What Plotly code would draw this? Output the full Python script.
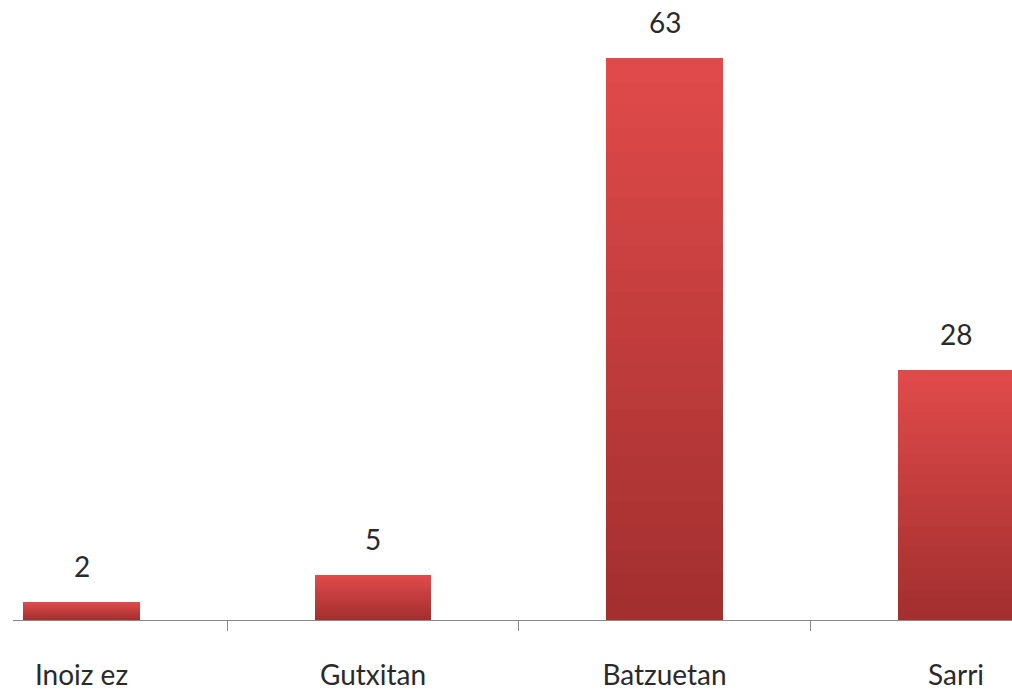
import plotly.graph_objects as go

categories = ["Inoiz ez", "Gutxitan", "Batzuetan", "Sarri"]
values = [2, 5, 63, 28]

light = (224, 74, 74)
dark = (163, 47, 47)
N = 24

fig = go.Figure()
xs = list(range(len(categories)))
for k in range(N):
    f = 1 - k / N
    t = k / (N - 1)
    c = tuple(round(light[i] + (dark[i] - light[i]) * t) for i in range(3))
    fig.add_trace(go.Bar(
        x=xs, y=[v * f for v in values], width=0.4,
        marker=dict(color="rgb(%d,%d,%d)" % c, line=dict(width=0)),
        hoverinfo="skip", showlegend=False,
    ))

for x, v in zip(xs, values):
    fig.add_annotation(x=x, y=v, text=str(v), showarrow=False, yanchor="middle",
                       yshift=36, font=dict(family="Lato", size=28, color="#2a2a2a"))

fig.update_layout(
    width=1012, height=691, barmode="overlay", bargap=0,
    margin=dict(l=13, r=0, t=0, b=71),
    plot_bgcolor="white", paper_bgcolor="white",
    xaxis=dict(range=[-0.235, 3.192], tickvals=xs, ticktext=categories,
               ticks="", showgrid=False, zeroline=False, showline=True,
               linecolor="#888", linewidth=1, ticklabelstandoff=30,
               tickfont=dict(family="Lato", size=28, color="#2a2a2a"),
               minor=dict(tickvals=[0.5, 1.5, 2.5], ticks="outside", ticklen=10,
                          tickcolor="#888", tickwidth=1, showgrid=False)),
    yaxis=dict(range=[0, 69.5], visible=False, showgrid=False, zeroline=False),
)
fig.write_html("out.html", config={"displayModeBar": False},
               post_script="document.body.style.margin='0';document.body.style.overflow='hidden';")
